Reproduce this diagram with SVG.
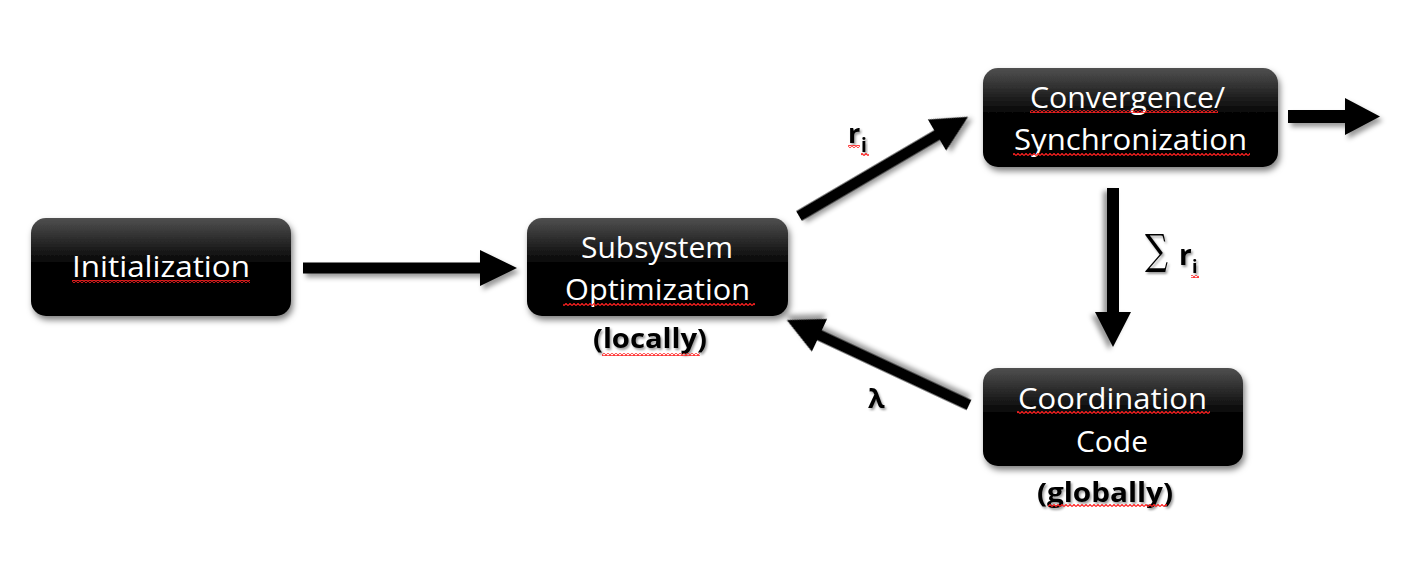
<svg xmlns="http://www.w3.org/2000/svg" width="1406" height="568" viewBox="0 0 1406 568">
<defs>
<linearGradient id="boxg" x1="0" y1="0" x2="0" y2="1">
<stop offset="0" stop-color="#505050"/>
<stop offset="0.45" stop-color="#060606"/>
<stop offset="1" stop-color="#000"/>
</linearGradient>
<filter id="bsh" x="-10%" y="-10%" width="125%" height="135%">
<feDropShadow dx="2" dy="4" stdDeviation="3" flood-color="#000" flood-opacity="0.5"/>
</filter>
<filter id="ash" x="-20%" y="-20%" width="150%" height="150%">
<feDropShadow dx="3" dy="4" stdDeviation="2.5" flood-color="#000" flood-opacity="0.4"/>
</filter>
<filter id="tsh" x="-10%" y="-10%" width="130%" height="140%">
<feDropShadow dx="1.5" dy="2" stdDeviation="1.2" flood-color="#000" flood-opacity="0.4"/>
</filter>
<pattern id="sq" width="4" height="3" patternUnits="userSpaceOnUse">
<path d="M0,2.5 L2,0.5 L4,2.5" fill="none" stroke="#ff2020" stroke-width="1.2"/>
</pattern>
</defs>
<style>
.box{fill:url(#boxg);filter:url(#bsh)}
.bt{font-family:"Open Sans","Liberation Sans",sans-serif;font-size:30px;fill:#fff;text-anchor:start}
.lb{font-family:"Open Sans","Liberation Sans",sans-serif;font-weight:bold;fill:#000;filter:url(#tsh)}
.arr{fill:#000;filter:url(#ash)}
.sq{fill:url(#sq)}
</style>
<rect width="1406" height="568" fill="#fff"/>

<g id="connectors">
<path class="arr" transform="translate(303,268)" d="M0,-5.5 L177,-5.5 L177,-18 L214,0 L177,18 L177,5.5 L0,5.5 Z"/>
<path class="arr" transform="translate(799,216) rotate(-30.4)" d="M0,-5.5 L160,-5.5 L160,-18 L196,0 L160,18 L160,5.5 L0,5.5 Z"/>
<path class="arr" transform="translate(1288,116.5)" d="M0,-6.5 L57,-6.5 L57,-18.5 L92,0 L57,18.5 L57,6.5 L0,6.5 Z"/>
<path class="arr" transform="translate(1113,188) rotate(90)" d="M0,-6 L124,-6 L124,-18 L159,0 L124,18 L124,6 L0,6 Z"/>
<path class="arr" transform="translate(969,405) rotate(-155)" d="M0,-5.5 L165,-5.5 L165,-18 L201,0 L165,18 L165,5.5 L0,5.5 Z"/>
<g id="label-ri">
<text class="lb" x="848" y="143" font-size="27">r</text>
<text class="lb" x="861" y="152" font-size="19">i</text>
<rect class="sq" x="848" y="145" width="12" height="3"/>
<rect class="sq" x="861" y="153" width="8" height="3"/>
</g>
<g id="label-sum">
<text x="1145" y="264" font-family="DejaVu Serif,Liberation Serif,serif" font-size="42" fill="#000" filter="url(#tsh)" textLength="23" lengthAdjust="spacingAndGlyphs">∑</text>
<text class="lb" x="1179" y="265" font-size="28">r</text>
<text class="lb" x="1192" y="273" font-size="18">i</text>
<rect class="sq" x="1191" y="275" width="8" height="3"/>
</g>
<g id="label-lambda">
<text class="lb" x="868" y="408" font-size="27">λ</text>
</g>
</g>

<g id="node-init">
<rect class="box" x="31" y="218" width="260" height="98" rx="15"/>
<text class="bt" x="72" y="277" textLength="178" lengthAdjust="spacingAndGlyphs">Initialization</text>
<rect class="sq" x="72" y="280" width="178" height="3"/>
</g>

<g id="node-subsystem">
<rect class="box" x="527" y="218" width="261" height="98" rx="15"/>
<text class="bt" x="581" y="258" textLength="152" lengthAdjust="spacingAndGlyphs">Subsystem</text>
<text class="bt" x="565" y="300" textLength="185" lengthAdjust="spacingAndGlyphs">Optimization</text>
<rect class="sq" x="563" y="303" width="192" height="3"/>
<text class="lb" x="593" y="348" font-size="26" textLength="114" lengthAdjust="spacingAndGlyphs">(locally)</text>
<rect class="sq" x="602" y="353" width="98" height="3"/>
</g>

<g id="node-convergence">
<rect class="box" x="983" y="68" width="295" height="99" rx="15"/>
<text class="bt" x="1030" y="108" textLength="195" lengthAdjust="spacingAndGlyphs">Convergence/</text>
<text class="bt" x="1014" y="150" textLength="233" lengthAdjust="spacingAndGlyphs">Synchronization</text>
<rect class="sq" x="1030" y="110" width="188" height="3"/>
<rect class="sq" x="1013" y="153" width="237" height="3"/>
</g>

<g id="node-coordination">
<rect class="box" x="983" y="368" width="260" height="98" rx="15"/>
<text class="bt" x="1018" y="409" textLength="189" lengthAdjust="spacingAndGlyphs">Coordination</text>
<text class="bt" x="1076" y="452" textLength="72" lengthAdjust="spacingAndGlyphs">Code</text>
<rect class="sq" x="1017" y="411" width="193" height="3"/>
<text class="lb" x="1037" y="502" font-size="26" textLength="136" lengthAdjust="spacingAndGlyphs">(globally)</text>
<rect class="sq" x="1048" y="504" width="119" height="3"/>
</g>
</svg>
